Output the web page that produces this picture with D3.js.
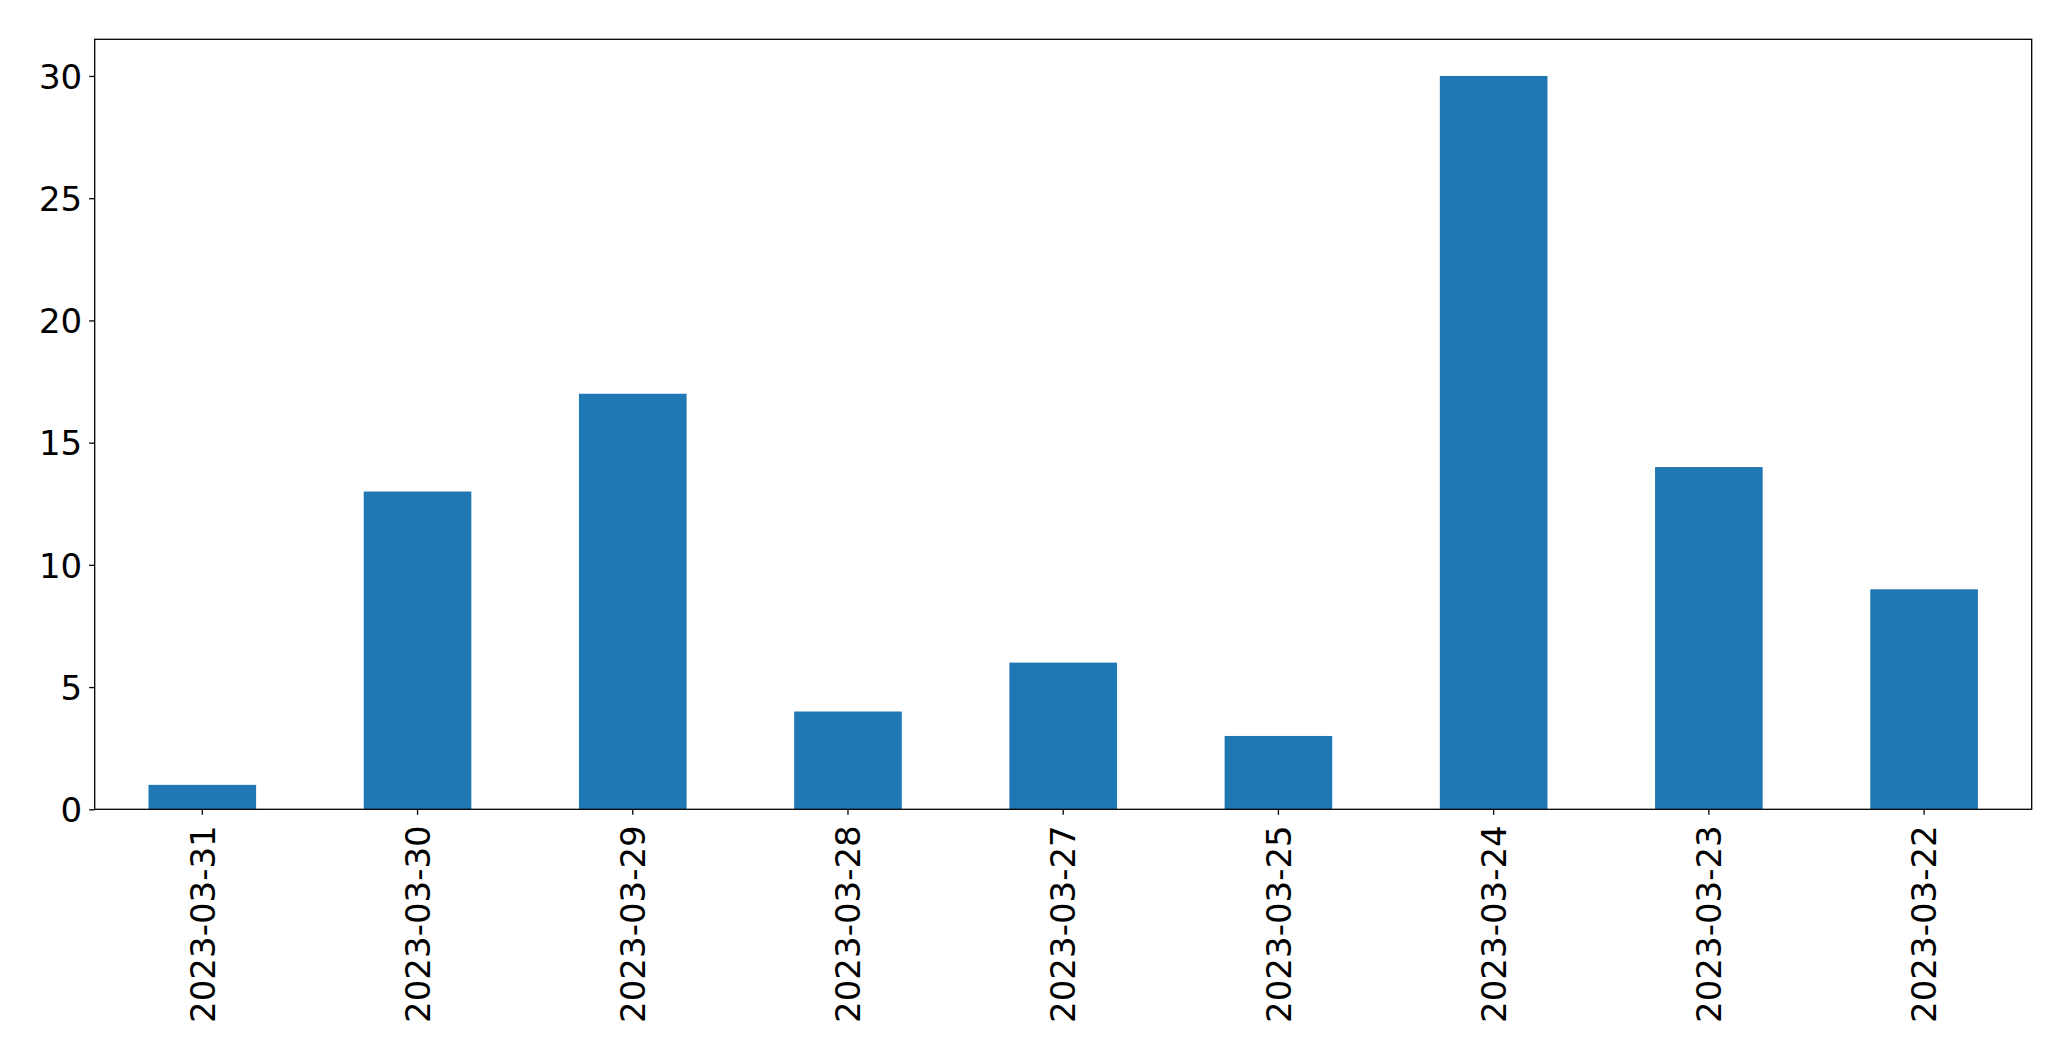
<!DOCTYPE html>
<html><head><meta charset="utf-8">
<script src="https://cdn.jsdelivr.net/npm/d3@7"></script>
<style>body{margin:0;background:#fff}svg{display:block}text{font-family:"DejaVu Sans",sans-serif}</style>
</head><body>
<svg id="chart" width="2071" height="1061"></svg>
<script>
const categories = ["2023-03-31","2023-03-30","2023-03-29","2023-03-28","2023-03-27","2023-03-25","2023-03-24","2023-03-23","2023-03-22"];
const values = [1,13,17,4,6,3,30,14,9];
const yTicks = [0,5,10,15,20,25,30];

const svg = d3.select("#chart");
const L = 94.7, R = 2031.7, T = 39.3, B = 809.3;
const fs = 34;

const x = d3.scaleBand().domain(categories).range([L, R]).paddingInner(0.5).paddingOuter(0.25);
const y = d3.scaleLinear().domain([0, 31.5]).range([B, T]);

svg.append("g").selectAll("rect").data(values).join("rect")
  .attr("x", (d,i) => x(categories[i]))
  .attr("width", x.bandwidth())
  .attr("y", d => y(d))
  .attr("height", d => B - y(d))
  .attr("fill", "#1f77b4");

const yAxis = svg.append("g").attr("transform", `translate(${L},0)`)
  .call(d3.axisLeft(y).tickValues(yTicks).tickSize(5.5).tickPadding(7).tickFormat(d3.format("d")));
yAxis.select(".domain").remove();
yAxis.selectAll("line").attr("stroke","#000").attr("stroke-width",1.3);
yAxis.selectAll("text").attr("font-size", fs).attr("fill","#000").attr("font-family","DejaVu Sans").attr("dy","0.36em");

const xAxis = svg.append("g").attr("transform", `translate(0,${B})`)
  .call(d3.axisBottom(x).tickSize(5.5).tickPadding(0));
xAxis.select(".domain").remove();
xAxis.selectAll("line").attr("stroke","#000").attr("stroke-width",1.3);
xAxis.selectAll("text")
  .attr("font-size", fs).attr("fill","#000").attr("font-family","DejaVu Sans")
  .attr("text-anchor","end")
  .attr("transform","translate(0,16) rotate(-90)")
  .attr("x",0).attr("y",0).attr("dy","0.36em");

svg.append("rect").attr("x",L).attr("y",T).attr("width",R-L).attr("height",B-T)
  .attr("fill","none").attr("stroke","#000").attr("stroke-width",1.3);
</script>
</body></html>
